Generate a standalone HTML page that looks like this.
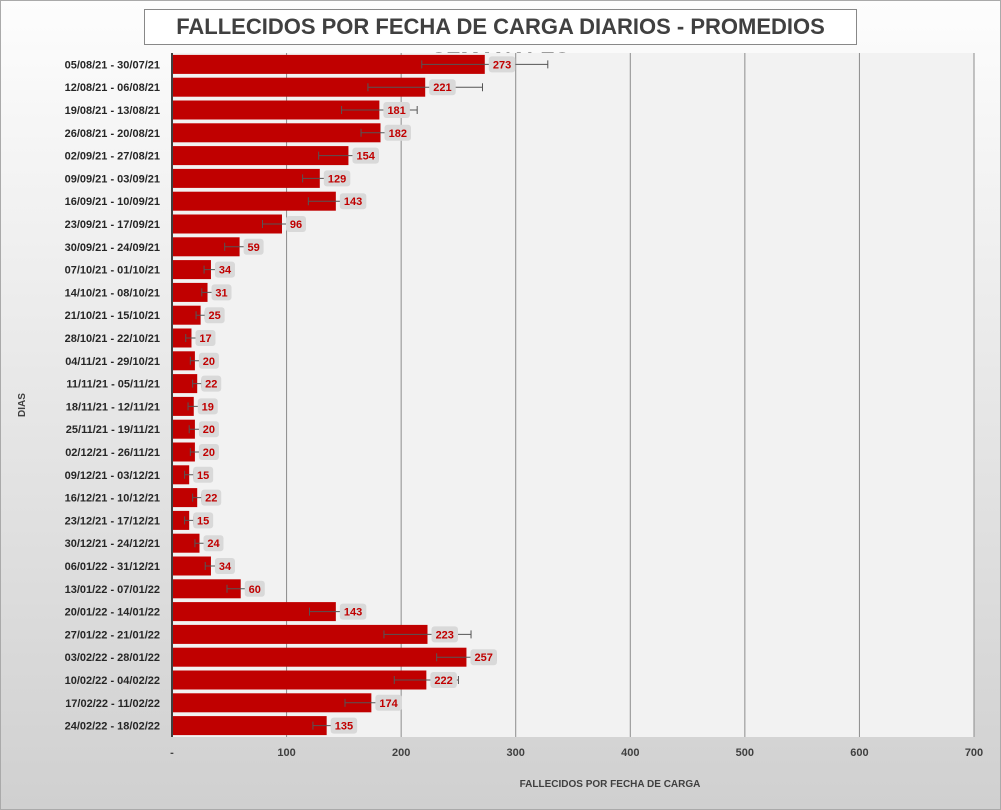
<!DOCTYPE html>
<html><head><meta charset="utf-8"><style>
body{margin:0;width:1001px;height:810px;overflow:hidden;font-family:"Liberation Sans",sans-serif}
#bg{position:absolute;left:0;top:0;width:999px;height:808px;border:1px solid #aaa;background:linear-gradient(#fdfdfd,#d0d0d0)}
#title{position:absolute;left:144px;top:9px;width:711px;height:34px;background:#fff;border:1px solid #888;font:bold 22px "Liberation Sans",sans-serif;color:#404040;text-align:center;line-height:34px}
</style></head><body>
<div id="bg"></div>
<div id="title">FALLECIDOS POR FECHA DE CARGA DIARIOS - PROMEDIOS SEMANALES</div>
<svg id="chart" width="1001" height="810" style="position:absolute;left:0;top:0"></svg>
<script>
const categories=["05/08/21 - 30/07/21","12/08/21 - 06/08/21","19/08/21 - 13/08/21","26/08/21 - 20/08/21","02/09/21 - 27/08/21","09/09/21 - 03/09/21","16/09/21 - 10/09/21","23/09/21 - 17/09/21","30/09/21 - 24/09/21","07/10/21 - 01/10/21","14/10/21 - 08/10/21","21/10/21 - 15/10/21","28/10/21 - 22/10/21","04/11/21 - 29/10/21","11/11/21 - 05/11/21","18/11/21 - 12/11/21","25/11/21 - 19/11/21","02/12/21 - 26/11/21","09/12/21 - 03/12/21","16/12/21 - 10/12/21","23/12/21 - 17/12/21","30/12/21 - 24/12/21","06/01/22 - 31/12/21","13/01/22 - 07/01/22","20/01/22 - 14/01/22","27/01/22 - 21/01/22","03/02/22 - 28/01/22","10/02/22 - 04/02/22","17/02/22 - 11/02/22","24/02/22 - 18/02/22"];
const values=[273,221,181,182,154,129,143,96,59,34,31,25,17,20,22,19,20,20,15,22,15,24,34,60,143,223,257,222,174,135];
const errors=[55,50,33,17,26,15,24,17,13,6,5,4,5,4,4,5,5,4,4,4,4,4,5,12,23,38,26,28,23,12];
const xTicks=[0,100,200,300,400,500,600,700];
const xTickLabels=["-","100","200","300","400","500","600","700"];
const svg=document.getElementById('chart');const NS='http://www.w3.org/2000/svg';
const X0=172,X1=974,Y0=53,Y1=737;
const x=v=>X0+(v/700)*(X1-X0);
const band=(Y1-Y0)/categories.length;
const y=i=>Y0+i*band;
function mk(t,a,txt){const e=document.createElementNS(NS,t);for(const k in a)e.setAttribute(k,a[k]);if(txt!=null)e.textContent=txt;svg.appendChild(e);return e;}
let e=mk('rect',{x:X0,y:Y0,width:X1-X0,height:Y1-Y0,fill:'#f2f2f2'});


xTicks.forEach((t,i)=>{
 if(t>0){const g=mk('line',{x1:x(t),x2:x(t),y1:Y0,y2:Y1,stroke:'#8c8c8c','stroke-width':1});
 
 }
 const l=mk('text',{x:x(t),y:756,'text-anchor':'middle','font-size':11,'font-weight':'bold',fill:'#404040','font-family':'Liberation Sans'},xTickLabels[i]);
 
 
});
categories.forEach((c,i)=>{
 const v=values[i],cy=y(i)+band/2,h=19;
 const b=mk('rect',{x:X0,y:cy-h/2,width:x(v)-X0,height:h,fill:'#c00000'});
 
 
 const lo=x(v-errors[i]),hi=x(v+errors[i]);
 const el=mk('path',{d:`M${lo},${cy}H${hi}M${lo},${cy-4}V${cy+4}M${hi},${cy-4}V${cy+4}`,stroke:'#555','stroke-width':1,fill:'none'});
 
 
 const txt=String(v),w=txt.length*6.5+7,bx=x(v)+4;
 const bb=mk('rect',{x:bx,y:cy-8,width:w,height:16,rx:3,fill:'#d9d9d9'});
 
 
 const vt=mk('text',{x:bx+w/2,y:cy+4,'text-anchor':'middle','font-size':11,'font-weight':'bold',fill:'#c00000','font-family':'Liberation Sans'},txt);
 
 
 const ct=mk('text',{x:160,y:cy+4,'text-anchor':'end','font-size':11,'font-weight':'bold',fill:'#262626','font-family':'Liberation Sans'},c);
 
 
});
e=mk('line',{x1:X0,x2:X0,y1:Y0,y2:Y1,stroke:'#404040','stroke-width':2});


e=mk('text',{x:610,y:787,'text-anchor':'middle','font-size':10,'font-weight':'bold',fill:'#404040','font-family':'Liberation Sans'},'FALLECIDOS POR FECHA DE CARGA');


e=mk('text',{x:25,y:405,'text-anchor':'middle','font-size':10,'font-weight':'bold',fill:'#404040','font-family':'Liberation Sans',transform:'rotate(-90 25 405)'},'DIAS');


</script>
</body></html>
